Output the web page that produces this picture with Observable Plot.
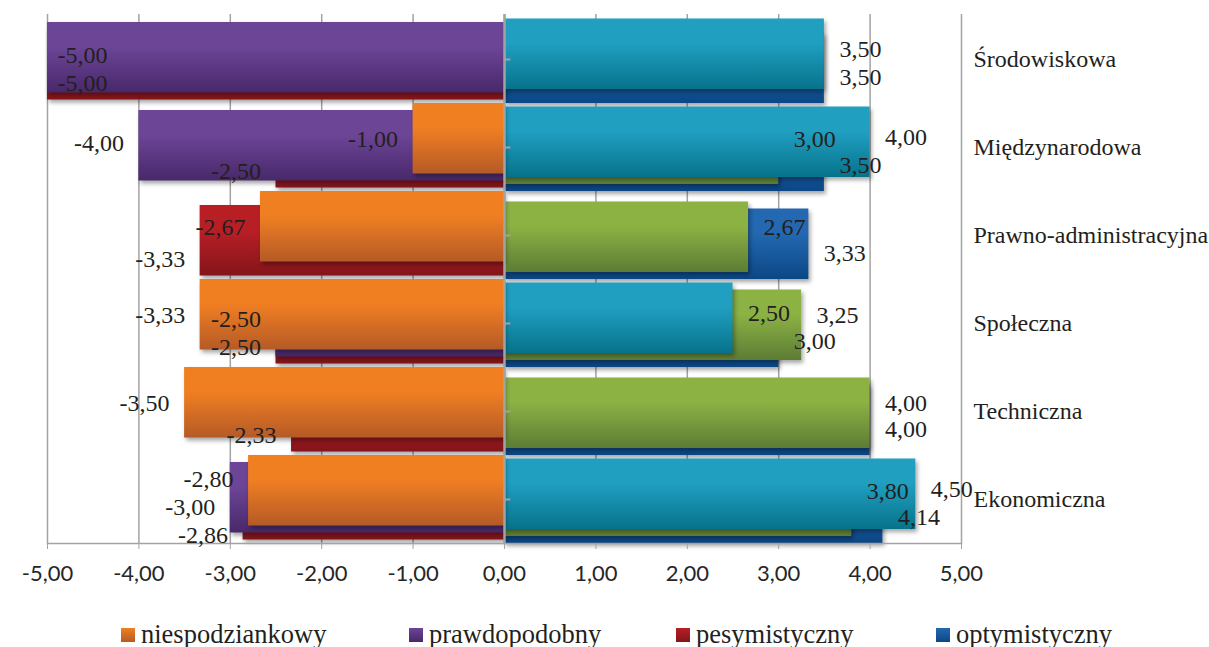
<!DOCTYPE html>
<html>
<head>
<meta charset="utf-8">
<script src="https://cdn.jsdelivr.net/npm/d3@7"></script>
<script src="https://cdn.jsdelivr.net/npm/@observablehq/plot@0.6"></script>
<style>
  body { margin: 0; background: #fff; width: 1209px; height: 647px; overflow: hidden; position: relative; }
  #chart { position: absolute; left: 0; top: 0; }
  #legend { position: absolute; left: 0; top: 619px; width: 1209px; height: 30px;
            font-family: "Liberation Serif", "Times New Roman", serif; font-size: 26.5px; color: #231f20; white-space: nowrap; }
  .item { position: absolute; top: 0; display: flex; align-items: center; }
  .sw { width: 14px; height: 14px; margin-right: 6px; }
</style>
</head>
<body>
<div id="chart"></div>
<div id="legend"></div>
<script>
// ---- data ----
const categories = ["Środowiskowa", "Międzynarodowa", "Prawno-administracyjna", "Społeczna", "Techniczna", "Ekonomiczna"];
const niespodziankowy = [null, -1.00, -2.67, -3.33, -3.50, -2.80];
const prawdopodobny   = [-5.00, -4.00, null, -2.50, null, -3.00];
const pesymistyczny   = [-5.00, -2.50, -3.33, -2.50, -2.33, -2.86];
const optymistyczny   = [3.50, 3.50, 3.33, 3.00, 4.00, 4.14];
const seriaTurkusowa  = [3.50, 4.00, null, 2.50, null, 4.50];
const seriaZielona    = [null, 3.00, 2.67, 3.25, 4.00, 3.80];
const xTicks = [-5, -4, -3, -2, -1, 0, 1, 2, 3, 4, 5];
const legendNames = ["niespodziankowy", "prawdopodobny", "pesymistyczny", "optymistyczny"];

// ---- styling ----
const grads = {
  orange: ["#F07F22", "#B55A27"],
  purple: ["#6C4597", "#48286A"],
  red:    ["#B81F25", "#84151A"],
  blue:   ["#2368B1", "#0C4786"],
  teal:   ["#209FC1", "#07738B"],
  green:  ["#8CB244", "#5D7C35"]
};
// slot = vertical position within the category band (0 = top); drawn in listed order
const series = [
  {name: "optymistyczny",   values: optymistyczny,   slot: 5, grad: "blue",   dy: 18},
  {name: "pesymistyczny",   values: pesymistyczny,   slot: 4, grad: "red",    dy: 24},
  {name: "zielona",         values: seriaZielona,    slot: 3, grad: "green",  dy: -8},
  {name: "prawdopodobny",   values: prawdopodobny,   slot: 2, grad: "purple", dy: -4},
  {name: "turkusowa",       values: seriaTurkusowa,  slot: 1, grad: "teal",   dy: -10},
  {name: "niespodziankowy", values: niespodziankowy, slot: 0, grad: "orange", dy: -8}
];
const legendGrad = {niespodziankowy: "orange", prawdopodobny: "purple", pesymistyczny: "red", optymistyczny: "blue"};
const legendLeft = [121, 409, 676, 936];
const fmt = v => v.toFixed(2).replace(".", ",");
const serif = "'Liberation Serif', 'Times New Roman', serif";
const step = 3.5;
const grid = "#a3a3a3";

const rowsOf = s => categories.map((cat, i) => ({cat, v: s.values[i]})).filter(d => d.v != null);

// ---- label layout (outside end, simple collision avoidance) ----
const W = 0.48, GAP = 0.165, SEP = 24, MAXDY = 36;
const labels = [];
categories.forEach((cat, i) => {
  [-1, 1].forEach(sign => {
    const placed = [];
    [...series].sort((a, b) => a.slot - b.slot).forEach(s => {
      const v = s.values[i];
      if (v == null || Math.sign(v) !== sign) return;
      const edge = Math.abs(v) >= 4.75;
      let lo, hi, anchor, dx;
      if (edge) {
        if (v < 0) { lo = v + 0.11; hi = lo + W; anchor = "start"; dx = 10; }
        else { hi = v - 0.11; lo = hi - W; anchor = "end"; dx = -10; }
      } else if (v < 0) { hi = v - GAP; lo = hi - W; anchor = "end"; dx = -15; }
      else { lo = v + GAP; hi = lo + W; anchor = "start"; dx = 15; }
      let dy = s.dy;
      while (placed.some(p => p.lo < hi && lo < p.hi && Math.abs(p.dy - dy) < SEP)) dy += SEP;
      const rec = {cat, v, text: fmt(v), dy, dx, anchor, lo, hi};
      placed.push(rec);
    });
    const maxDy = d3.max(placed, p => p.dy);
    const shift = maxDy > MAXDY ? MAXDY - maxDy : 0;
    placed.forEach(p => { p.dy += shift; labels.push(p); });
  });
});
const groups = d3.groups(labels, d => `${d.anchor}|${d.dx}|${d.dy}`);

const chart = Plot.plot({
  width: 1209,
  height: 610,
  marginLeft: 47,
  marginRight: 248,
  marginTop: 14,
  marginBottom: 67,
  x: {domain: [-5, 5]},
  y: {domain: categories, padding: 0},
  style: {background: "#fff"},
  marks: [
    Plot.ruleX(xTicks, {stroke: grid, strokeWidth: 1.5}),
    ...series.map(s => Plot.barX(rowsOf(s), {
      x: "v", y: "cat", fill: `url(#g-${s.grad})`,
      insetTop: s.slot * step, insetBottom: (5 - s.slot) * step
    })),
    Plot.ruleX([0], {stroke: grid, strokeWidth: 2.5}),
    Plot.ruleY(categories, {x1: 0, x2: 0.07, stroke: grid, strokeWidth: 2}),
    Plot.frame({anchor: "bottom", stroke: grid, strokeWidth: 1.5}),
    Plot.axisX(xTicks, {tickFormat: fmt, tickSize: 6, tickPadding: 16, stroke: grid, fill: "#262626",
      fontSize: 22, fontFamily: "Lato, 'Open Sans', sans-serif", label: null}),
    Plot.axisY({anchor: "right", tickSize: 0, tickPadding: 12, fontSize: 24, fontFamily: serif,
      fill: "#231f20", label: null}),
    ...groups.map(([k, rows]) => Plot.text(rows, {
      x: "v", y: "cat", text: "text", dx: rows[0].dx, dy: rows[0].dy, textAnchor: rows[0].anchor,
      fontSize: 24, fontFamily: serif, fill: "#231f20"
    }))
  ]
});

// gradients
const defs = d3.select(chart).insert("defs", ":first-child");
Object.entries(grads).forEach(([k, [c1, c2]]) => {
  const g = defs.append("linearGradient").attr("id", `g-${k}`).attr("x1", 0).attr("y1", 0).attr("x2", 0).attr("y2", 1);
  g.append("stop").attr("offset", "0%").attr("stop-color", c1);
  g.append("stop").attr("offset", "35%").attr("stop-color", c1);
  g.append("stop").attr("offset", "100%").attr("stop-color", c2);
});
d3.select(chart).selectAll('g[aria-label="bar"]').style("filter", "drop-shadow(2px 3px 2px rgba(0,0,0,0.35))");
document.getElementById("chart").appendChild(chart);

// legend
const leg = d3.select("#legend");
legendNames.forEach((n, i) => {
  const [c1, c2] = grads[legendGrad[n]];
  const it = leg.append("div").attr("class", "item").style("left", legendLeft[i] + "px");
  it.append("div").attr("class", "sw").style("background", `linear-gradient(${c1}, ${c2})`);
  it.append("span").text(n);
});
</script>
</body>
</html>
